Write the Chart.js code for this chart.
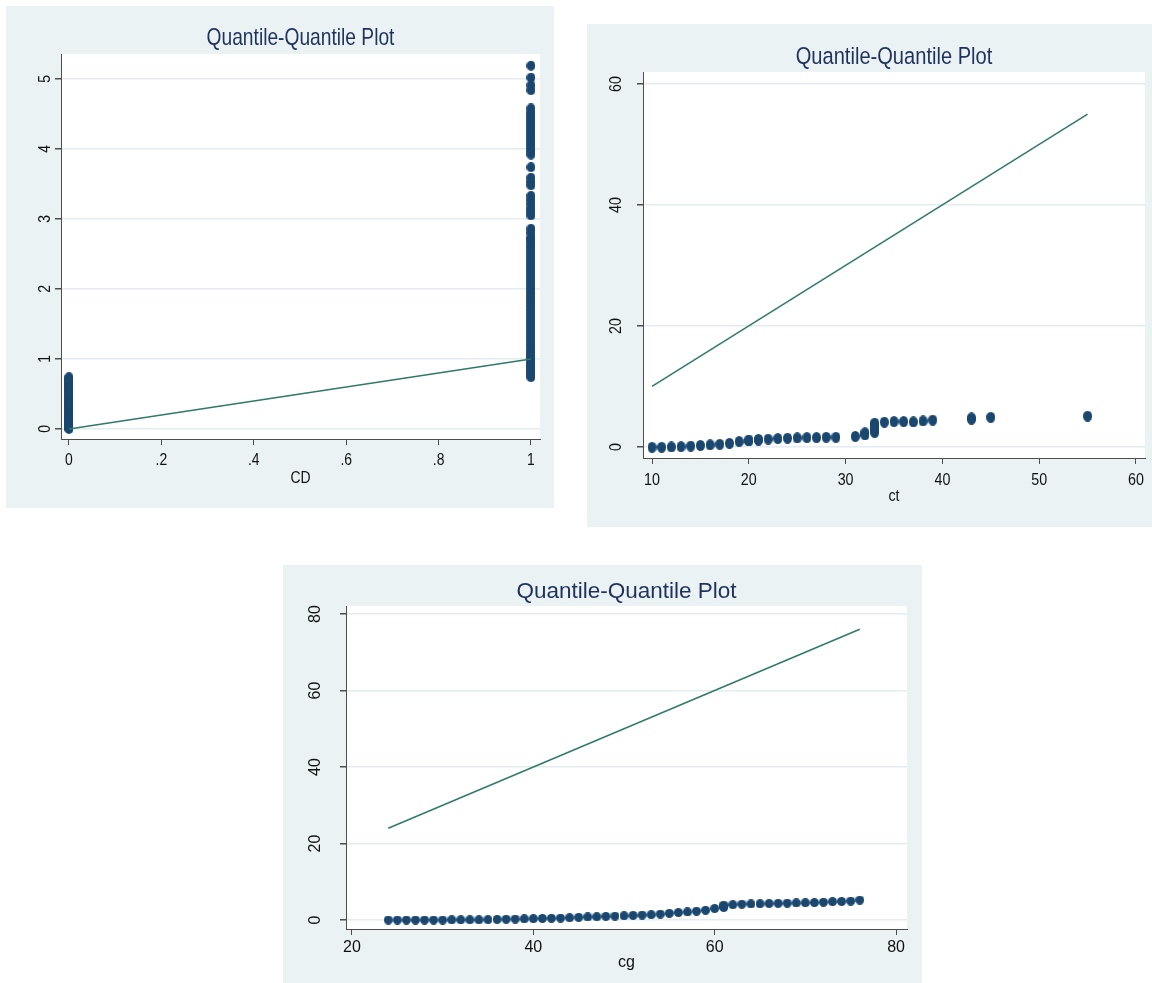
<!DOCTYPE html>
<html>
<head>
<meta charset="utf-8">
<script src="https://cdn.jsdelivr.net/npm/chart.js@4.4.1/dist/chart.umd.min.js"></script>
<style>
  body { margin: 0; background: #ffffff; width: 1152px; height: 983px; position: relative; overflow: hidden; }
  .panel { position: absolute; background: #eaf2f3; }
  .panel canvas { position: absolute; left: 0; top: 0; }
</style>
</head>
<body>
<div class="panel" style="left:6px;top:6px;width:548px;height:502px;"><canvas id="cdChart" width="548" height="502"></canvas></div>
<div class="panel" style="left:587px;top:24px;width:565px;height:503px;"><canvas id="ctChart" width="565" height="503"></canvas></div>
<div class="panel" style="left:283px;top:565px;width:639px;height:418px;"><canvas id="cgChart" width="639" height="418"></canvas></div>
<script>
// ---- data ----
const chartTitle = "Quantile-Quantile Plot";

// CD: quantiles for the two groups (CD = 0 and CD = 1)
const cdGroup0Y = [0.00, 0.02, 0.05, 0.07, 0.10, 0.12, 0.15, 0.18, 0.20, 0.23, 0.26, 0.29, 0.31, 0.34,
  0.37, 0.40, 0.43, 0.45, 0.48, 0.51, 0.54, 0.57, 0.60, 0.63, 0.66, 0.69, 0.71, 0.74];
const cdGroup1Y = [0.74, 0.78, 0.82, 0.86, 0.90, 0.94, 0.98, 1.02, 1.06, 1.10, 1.15, 1.20, 1.25, 1.30, 1.35,
  1.40, 1.45, 1.50, 1.55, 1.60, 1.65, 1.70, 1.75, 1.80, 1.85, 1.90, 1.95, 2.00, 2.05, 2.10, 2.15,
  2.20, 2.25, 2.30, 2.35, 2.40, 2.45, 2.50, 2.55, 2.60, 2.65, 2.70, 2.73,
  2.80, 2.86, 3.05, 3.10, 3.15, 3.21, 3.27, 3.33, 3.48, 3.53, 3.59, 3.74,
  3.92, 3.97, 4.02, 4.07, 4.12, 4.17, 4.22, 4.27, 4.32, 4.37, 4.42, 4.47, 4.52, 4.58,
  4.84, 4.91, 5.02, 5.19];
const cdLine = [0, 1];
const cdXTicks = [0, 0.2, 0.4, 0.6, 0.8, 1];
const cdXLabels = ["0", ".2", ".4", ".6", ".8", "1"];
const cdYTicks = [0, 1, 2, 3, 4, 5];

// ct
const ctX = [10, 11, 12, 13, 14, 15, 16, 17, 18, 19, 20, 20, 21, 21, 22, 23, 24, 25, 26, 27, 28, 29,
  31, 32, 32, 33, 33, 33, 33, 33, 34, 35, 36, 37, 38, 39, 43, 43, 45, 55];
const ctY = [-0.05, -0.05, 0.00, 0.05, 0.15, 0.25, 0.35, 0.45, 0.60, 0.90, 1.00, 1.15, 1.15, 1.25, 1.30,
  1.40, 1.45, 1.50, 1.55, 1.55, 1.60, 1.60, 1.75, 2.00, 2.35, 2.40, 2.80, 3.20, 3.60, 3.95,
  4.10, 4.20, 4.20, 4.15, 4.30, 4.45, 4.60, 4.80, 4.90, 5.10];
const ctLine = [10, 55];
const ctXTicks = [10, 20, 30, 40, 50, 60];
const ctYTicks = [0, 20, 40, 60];

// cg
const cgX = [24, 25, 26, 27, 28, 29, 30, 31, 32, 33, 34, 35, 36, 37, 38, 39, 40, 41, 42, 43, 44, 45,
  46, 47, 48, 49, 50, 51, 52, 53, 54, 55, 56, 57, 58, 59, 60, 61, 61, 61, 62, 63, 64, 65, 66, 67,
  68, 69, 70, 71, 72, 73, 74, 75, 76];
const cgY = [0.00, 0.00, 0.00, 0.00, 0.00, 0.00, 0.00, 0.05, 0.05, 0.05, 0.05, 0.10, 0.15, 0.20, 0.25,
  0.30, 0.35, 0.40, 0.45, 0.50, 0.60, 0.70, 0.80, 0.85, 0.95, 1.00, 1.10, 1.20, 1.30, 1.40, 1.55,
  1.75, 1.95, 2.10, 2.30, 2.55, 3.00, 3.30, 3.60, 3.90, 4.00, 4.15, 4.20, 4.25, 4.30, 4.35, 4.40,
  4.45, 4.50, 4.55, 4.65, 4.80, 4.85, 4.95, 5.20];
const cgLine = [24, 76];
const cgXTicks = [20, 40, 60, 80];
const cgYTicks = [0, 20, 40, 60, 80];

// ---- drawing ----
const FONT = "'Liberation Sans', Arial, sans-serif";
const NAVY = "#1a476f";
const TEAL = "#2f7a68";
const AXIS = "#4d4d4d";
const GRID = "#e3ecef";

function dotImage(w, h) {
    const c = document.createElement("canvas");
    c.width = w; c.height = h;
    const g = c.getContext("2d");
    g.fillStyle = NAVY;
    g.beginPath();
    g.ellipse(w / 2, h / 2, w / 2, h / 2, 0, 0, Math.PI * 2);
    g.fill();
    return c;
}

// text squeezed horizontally (the original export is condensed)
function putText(ctx, text, x, y, size, sx, rot) {
    ctx.save();
    ctx.translate(x, y);
    if (rot) ctx.rotate(rot);
    ctx.scale(sx, 1);
    ctx.font = size + "px " + FONT;
    ctx.fillText(text, 0, 0);
    ctx.restore();
}

// white plot region, title, tick labels and x title
const stataBits = {
    id: "stataBits",
    beforeDraw(chart) {
        const a = chart.chartArea;
        chart.ctx.save();
        chart.ctx.fillStyle = "#ffffff";
        chart.ctx.fillRect(a.left, a.top, a.right - a.left, a.bottom - a.top);
        chart.ctx.restore();
    },
    afterDraw(chart, args, o) {
        const ctx = chart.ctx, a = chart.chartArea;
        const xs = chart.scales.x, ys = chart.scales.y;
        const mid = (a.left + a.right) / 2;
        ctx.save();
        ctx.textAlign = "center";

        ctx.fillStyle = "#1f325e";
        ctx.textBaseline = "middle";
        putText(ctx, chartTitle, mid, o.titleY, o.titleSize, o.titleSx);

        ctx.fillStyle = "#111111";
        o.xTicks.forEach((v, i) => {
            const lab = o.xLabels ? o.xLabels[i] : String(v);
            putText(ctx, lab, xs.getPixelForValue(v), a.bottom + o.xLabelOffset, o.tickSize, o.tickSx);
        });
        putText(ctx, o.xTitle, mid, a.bottom + o.xTitleOffset, o.tickSize, o.tickSx);

        ctx.textBaseline = "alphabetic";
        o.yTicks.forEach(v => {
            putText(ctx, String(v), a.left - o.yLabelOffset + o.tickSize * 0.36, ys.getPixelForValue(v),
                o.tickSize, o.tickSx, -Math.PI / 2);
        });
        ctx.restore();
    }
};

function makePanel(id, p) {
    return new Chart(document.getElementById(id), {
        type: "scatter",
        data: {
            datasets: [
                {
                    type: "line",
                    data: p.line.map(v => ({ x: v, y: v })),
                    borderColor: TEAL,
                    borderWidth: 1.5,
                    pointRadius: 0,
                    fill: false,
                },
                {
                    data: p.points,
                    pointStyle: dotImage(p.dotW, p.dotH),
                    pointRadius: 5,
                    pointBackgroundColor: NAVY,
                    pointBorderWidth: 0,
                },
            ],
        },
        options: {
            responsive: false,
            animation: false,
            events: [],
            layout: { padding: { left: 0, right: p.padRight, top: p.topSpace, bottom: 0 } },
            plugins: {
                legend: { display: false },
                tooltip: { enabled: false },
                title: { display: false },
                stataBits: {
                    xTicks: p.xTicks, xLabels: p.xLabels, yTicks: p.yTicks,
                    titleY: p.titleY, titleSize: p.titleSize, titleSx: p.titleSx,
                    tickSize: p.tickSize, tickSx: p.tickSx,
                    xLabelOffset: p.xLabelOffset, yLabelOffset: p.yLabelOffset,
                    xTitle: p.xTitle, xTitleOffset: p.xTitleOffset,
                },
            },
            scales: {
                x: {
                    type: "linear",
                    min: p.xMin, max: p.xMax,
                    afterBuildTicks: s => { s.ticks = p.xTicks.map(v => ({ value: v })); },
                    afterFit: s => { s.height = p.bottomSpace; },
                    ticks: { display: false },
                    grid: { drawOnChartArea: false, tickColor: AXIS, tickLength: 6 },
                    border: { color: AXIS, width: 1 },
                },
                y: {
                    type: "linear",
                    min: p.yMin, max: p.yMax,
                    afterBuildTicks: s => { s.ticks = p.yTicks.map(v => ({ value: v })); },
                    afterFit: s => { s.width = p.leftSpace; },
                    ticks: { display: false },
                    grid: { color: GRID, lineWidth: 1.5, tickColor: AXIS, tickLength: 6 },
                    border: { color: AXIS, width: 1 },
                },
            },
        },
        plugins: [stataBits],
    });
}

makePanel("cdChart", {
    points: cdGroup0Y.map(v => ({ x: 0, y: v })).concat(cdGroup1Y.map(v => ({ x: 1, y: v }))),
    line: cdLine, xTicks: cdXTicks, xLabels: cdXLabels, yTicks: cdYTicks,
    xMin: -0.0173, xMax: 1.0195, yMin: -0.143, yMax: 5.357,
    titleY: 32, titleSize: 24, titleSx: 0.80, tickSize: 17, tickSx: 0.82, dotW: 9, dotH: 10,
    topSpace: 48, leftSpace: 55, padRight: 14, bottomSpace: 69,
    xLabelOffset: 21, yLabelOffset: 17, xTitle: "CD", xTitleOffset: 39,
});

makePanel("ctChart", {
    points: ctX.map((x, i) => ({ x: x, y: ctY[i] })),
    line: ctLine, xTicks: ctXTicks, yTicks: ctYTicks,
    xMin: 9.07, xMax: 60.93, yMin: -1.82, yMax: 61.98,
    titleY: 33, titleSize: 24.5, titleSx: 0.82, tickSize: 17, tickSx: 0.84, dotW: 9, dotH: 11,
    topSpace: 48, leftSpace: 56, padRight: 7, bottomSpace: 69,
    xLabelOffset: 22, yLabelOffset: 28, xTitle: "ct", xTitleOffset: 38,
});

makePanel("cgChart", {
    points: cgX.map((x, i) => ({ x: x, y: cgY[i] })),
    line: cgLine, xTicks: cgXTicks, yTicks: cgYTicks,
    xMin: 19.34, xMax: 81.21, yMin: -2.35, yMax: 82.09,
    titleY: 27, titleSize: 22.5, titleSx: 1, tickSize: 16, tickSx: 1, dotW: 9, dotH: 9,
    topSpace: 41, leftSpace: 63, padRight: 15, bottomSpace: 54,
    xLabelOffset: 19, yLabelOffset: 32, xTitle: "cg", xTitleOffset: 34,
});
</script>
</body>
</html>
